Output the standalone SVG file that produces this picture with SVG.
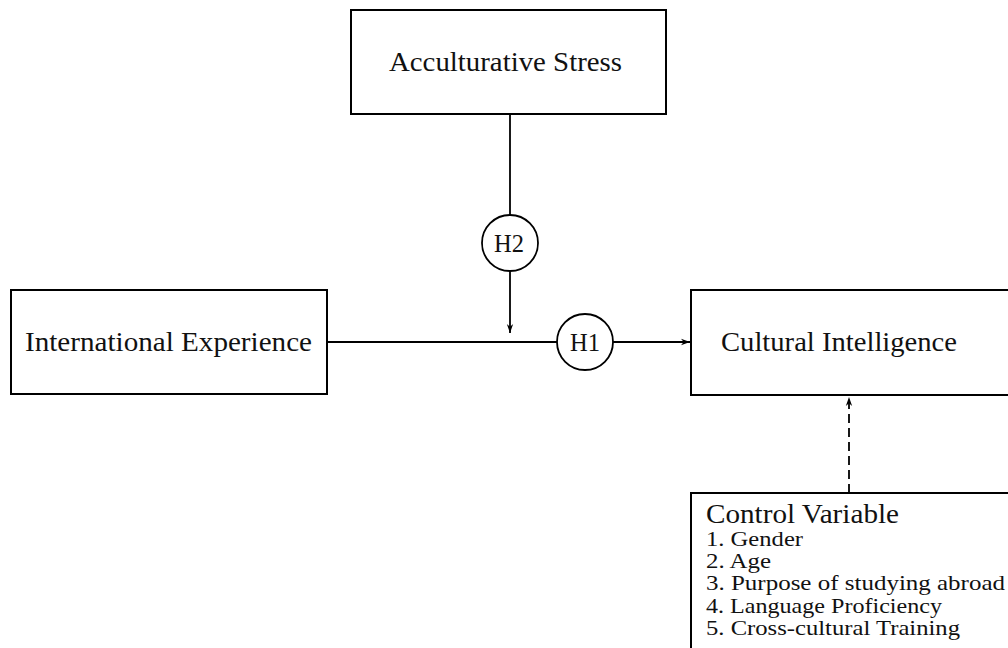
<svg xmlns="http://www.w3.org/2000/svg" width="1008" height="648" viewBox="0 0 1008 648">
<style>
.box{fill:#fff;stroke:#000;stroke-width:2}
.circ{fill:#fff;stroke:#000;stroke-width:1.8}
.lbl{font-family:"Liberation Serif","DejaVu Serif",serif;font-size:27px;fill:#111}
.hl{font-family:"Liberation Serif","DejaVu Serif",serif;font-size:25px;fill:#111;text-anchor:middle}
.item{font-family:"Liberation Serif","DejaVu Serif",serif;font-size:21px;fill:#111}
.conn{fill:none;stroke:#000;stroke-width:1.8}
</style>
<defs>
<marker id="arr" viewBox="0 0 10 10" refX="10" refY="5" markerWidth="9" markerHeight="9" markerUnits="userSpaceOnUse" orient="auto">
<path d="M0,1.5 L10,5 L0,8.5 L3,5 Z" fill="#000"/>
</marker>
</defs>
<rect width="1008" height="648" fill="#fff"/>
<g id="connectors">
<line class="conn" x1="510" y1="114" x2="510" y2="215"/>
<line class="conn" x1="510" y1="271" x2="510" y2="333" marker-end="url(#arr)"/>
<line class="conn" x1="327" y1="342" x2="557" y2="342"/>
<line class="conn" x1="613" y1="342" x2="690" y2="342" marker-end="url(#arr)"/>
<line class="conn" x1="849" y1="493" x2="849" y2="397" stroke-width="1.2" stroke-dasharray="9,5" marker-end="url(#arr)"/>
</g>
<g id="acculturative-stress">
<rect class="box" x="351" y="10" width="315" height="104"/>
<text class="lbl" x="389" y="71" textLength="233" lengthAdjust="spacingAndGlyphs">Acculturative Stress</text>
</g>
<g id="international-experience">
<rect class="box" x="11" y="290" width="316" height="104"/>
<text class="lbl" x="25" y="351" textLength="287" lengthAdjust="spacingAndGlyphs">International Experience</text>
</g>
<g id="cultural-intelligence">
<rect class="box" x="691" y="290" width="330" height="105"/>
<text class="lbl" x="721" y="351" textLength="236" lengthAdjust="spacingAndGlyphs">Cultural Intelligence</text>
</g>
<g id="h2">
<circle class="circ" cx="510" cy="243" r="28"/>
<text class="hl" x="509" y="252" textLength="30" lengthAdjust="spacingAndGlyphs">H2</text>
</g>
<g id="h1">
<circle class="circ" cx="585" cy="342" r="28"/>
<text class="hl" x="585" y="351" textLength="30" lengthAdjust="spacingAndGlyphs">H1</text>
</g>
<g id="control-variable">
<rect class="box" x="691" y="493" width="330" height="170"/>
<text class="lbl" x="706" y="523" textLength="193" lengthAdjust="spacingAndGlyphs">Control Variable</text>
<text class="item" x="706" y="546" textLength="97" lengthAdjust="spacingAndGlyphs">1. Gender</text>
<text class="item" x="706" y="568" textLength="65" lengthAdjust="spacingAndGlyphs">2. Age</text>
<text class="item" x="706" y="590" textLength="299" lengthAdjust="spacingAndGlyphs">3. Purpose of studying abroad</text>
<text class="item" x="706" y="613" textLength="236" lengthAdjust="spacingAndGlyphs">4. Language Proficiency</text>
<text class="item" x="706" y="635" textLength="254" lengthAdjust="spacingAndGlyphs">5. Cross-cultural Training</text>
</g>
</svg>
